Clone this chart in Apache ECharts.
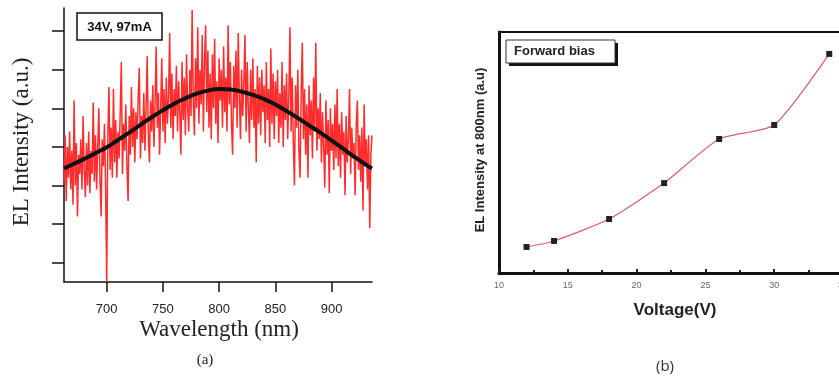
<!DOCTYPE html>
<html>
<head>
<meta charset="utf-8">
<script src="https://cdn.jsdelivr.net/npm/echarts@6/dist/echarts.min.js"></script>
<style>html,body{margin:0;padding:0;background:#fff;}#c{width:839px;height:376px;}</style>
</head>
<body>
<div id="c"></div>
<script>
// ---------- Panel (a): EL spectrum ----------
const spectrumStart = 662;   // nm, first sample
const spectrumStep = 1;      // nm between samples
const spectrumValues = [
  3.1, 4.3, 2.6, 4.0, 3.2, 4.4, 2.9, 3.9, 2.5, 5.2,
  3.0, 4.1, 2.2, 3.8, 3.3, 4.2, 2.9, 4.8, 3.4, 2.7,
  4.1, 3.0, 4.4, 2.8, 3.9, 3.3, 5.15, 3.1, 4.3, 2.9,
  4.0, 5.0, 3.2, 2.2, 4.2, 3.5, 4.6, 3.0, 0.5, 4.3,
  5.55, 3.4, 4.5, 3.2, 5.5, 3.6, 4.7, 3.2, 4.4, 3.7,
  4.9, 6.2, 3.3, 4.6, 3.9, 5.1, 3.5, 2.6, 4.8, 3.8,
  5.55, 4.0, 5.0, 3.6, 4.9, 4.2, 5.3, 6.05, 3.7, 4.8,
  4.1, 5.4, 3.9, 5.0, 6.35, 4.3, 3.6, 5.2, 4.4, 5.6,
  4.0, 5.1, 6.6, 4.5, 5.4, 3.8, 5.0, 6.3, 4.4, 5.5,
  4.1, 5.8, 4.6, 5.3, 6.95, 4.5, 5.9, 4.2, 5.5, 4.8,
  6.1, 4.4, 5.7, 4.9, 3.8, 6.2, 4.7, 5.8, 4.3, 6.4,
  5.0, 4.4, 6.0, 4.8, 7.55, 5.2, 4.3, 6.3, 5.0, 7.1,
  4.6, 6.0, 5.1, 6.9, 4.4, 6.2, 7.15, 4.9, 6.5, 4.5,
  5.9, 4.2, 6.4, 5.0, 6.8, 4.6, 5.7, 4.1, 6.3, 5.2,
  6.0, 4.5, 6.6, 4.9, 5.8, 4.4, 7.15, 5.1, 6.2, 4.6,
  3.8, 6.1, 5.0, 6.5, 4.5, 6.95, 5.3, 4.2, 6.0, 4.8,
  5.7, 6.9, 4.4, 6.2, 5.0, 4.1, 6.0, 4.7, 6.3, 4.5,
  5.5, 3.6, 6.1, 4.6, 5.8, 4.3, 6.0, 4.9, 5.6, 4.1,
  6.2, 4.7, 5.5, 4.0, 6.55, 4.6, 5.9, 4.2, 5.7, 4.8,
  6.0, 4.1, 5.4, 4.5, 6.2, 4.0, 5.6, 4.7, 5.9, 4.2,
  5.3, 7.1, 4.4, 5.8, 4.1, 3.0, 5.6, 4.5, 6.0, 3.9,
  3.2, 5.4, 6.7, 4.2, 5.5, 3.8, 5.1, 3.2, 5.6, 4.3,
  5.2, 3.7, 5.8, 4.4, 6.7, 3.9, 5.0, 4.2, 5.4, 3.6,
  4.9, 4.0, 2.95, 5.2, 3.8, 4.7, 2.8, 5.0, 3.9, 4.6,
  3.4, 5.1, 3.7, 5.5, 3.5, 4.6, 3.2, 4.9, 3.8, 4.4,
  2.75, 4.8, 3.6, 4.2, 5.5, 3.3, 4.5, 3.7, 4.1, 2.75,
  4.6, 5.2, 3.4, 4.3, 3.1, 4.5, 2.35, 5.1, 3.5, 4.2,
  2.9, 4.3, 1.9, 3.8, 4.3
];
const fitWavelengths = [662, 670, 680, 690, 700, 710, 720, 730, 740, 750, 760, 770, 780, 790, 800,
  810, 820, 830, 840, 850, 860, 870, 880, 890, 900, 910, 920, 930, 936];
const fitValues = [3.44, 3.55, 3.69, 3.84, 3.99, 4.18, 4.37, 4.57, 4.77, 4.95, 5.12, 5.26, 5.38, 5.46, 5.50,
  5.49, 5.43, 5.35, 5.24, 5.10, 4.93, 4.75, 4.56, 4.37, 4.17, 3.96, 3.75, 3.55, 3.44];
const wavelengthTicks = [700, 750, 800, 850, 900];
const intensityTicks = [1, 2, 3, 4, 5, 6, 7];

// ---------- Panel (b): intensity vs voltage ----------
const voltages = [12, 14, 18, 22, 26, 30, 34];
const intensity800 = [10.8, 13.3, 22.4, 37.3, 55.6, 61.4, 90.9];

const spectrumData = spectrumValues.map((v, i) => [spectrumStart + i * spectrumStep, v]);
const fitData = fitWavelengths.map((w, i) => [w, fitValues[i]]);
const voltData = voltages.map((v, i) => [v, intensity800[i]]);

const chart = echarts.init(document.getElementById('c'), null, {renderer: 'canvas'});
chart.setOption({
  animation: false,
  backgroundColor: '#ffffff',
  grid: [
    {left: 64, top: 8, width: 308, height: 274, containLabel: false, outerBoundsMode: 'none'},
    {left: 499, top: 32, width: 344, height: 241, containLabel: false, outerBoundsMode: 'none',
     show: true, borderColor: '#111', borderWidth: 2, backgroundColor: 'transparent'}
  ],
  xAxis: [
    {
      type: 'value', gridIndex: 0, min: 662, max: 936,
      splitLine: {show: false},
      axisLine: {lineStyle: {color: '#111', width: 1.5}},
      axisTick: {show: true, inside: false, length: 10, lineStyle: {color: '#111', width: 1.5}, customValues: wavelengthTicks},
      axisLabel: {customValues: wavelengthTicks, margin: 21, fontFamily: 'Arial, Liberation Sans, sans-serif', fontSize: 13, color: '#222'}
    },
    {
      type: 'value', gridIndex: 1, min: 10, max: 35, interval: 5,
      splitLine: {show: false},
      axisLine: {lineStyle: {color: '#111', width: 3}},
      axisTick: {show: true, inside: true, length: 4, lineStyle: {color: '#222', width: 2}},
      minorTick: {show: true, splitNumber: 2, length: 3, lineStyle: {color: '#222', width: 2}},
      axisLabel: {showMinLabel: true, showMaxLabel: true, margin: 8, fontFamily: 'Arial, Liberation Sans, sans-serif', fontSize: 9, color: '#666'}
    }
  ],
  yAxis: [
    {
      type: 'value', gridIndex: 0, min: 0.5, max: 7.6,
      splitLine: {show: false},
      axisLine: {show: true, lineStyle: {color: '#111', width: 1.5}},
      axisTick: {show: true, inside: false, length: 12, lineStyle: {color: '#111', width: 1.5}, customValues: intensityTicks},
      axisLabel: {show: false}
    },
    {
      type: 'value', gridIndex: 1, min: 0, max: 100,
      splitLine: {show: false},
      axisLine: {show: true, lineStyle: {color: '#111', width: 3}},
      axisTick: {show: false},
      axisLabel: {show: false}
    }
  ],
  series: [
    {
      type: 'line', xAxisIndex: 0, yAxisIndex: 0, data: spectrumData,
      showSymbol: false, symbol: 'none',
      lineStyle: {color: '#ff2d2d', width: 1.5}, z: 2
    },
    {
      type: 'line', xAxisIndex: 0, yAxisIndex: 0, data: fitData,
      smooth: true, showSymbol: false, symbol: 'none',
      lineStyle: {color: '#111', width: 4}, z: 3
    },
    {
      type: 'line', xAxisIndex: 1, yAxisIndex: 1, data: voltData,
      smooth: 0.2, symbol: 'rect', symbolSize: 6,
      itemStyle: {color: '#222'},
      lineStyle: {color: '#d45c78', width: 1.2}, z: 3
    }
  ],
  graphic: [
    // panel (a) annotations
    {type: 'rect', shape: {x: 77, y: 13, width: 85, height: 27}, style: {fill: '#fff', stroke: '#111', lineWidth: 1.5}, z: 10},
    {type: 'text', x: 119.5, y: 27, style: {text: '34V, 97mA', fontFamily: 'Arial, Liberation Sans, sans-serif', fontWeight: 'bold', fontSize: 13, fill: '#111', align: 'center', verticalAlign: 'middle'}, z: 11},
    {type: 'text', x: 219, y: 330, style: {text: 'Wavelength (nm)', fontFamily: 'Times New Roman, Liberation Serif, DejaVu Serif, serif', fontSize: 23, fill: '#222', align: 'center', verticalAlign: 'middle'}, z: 10},
    {type: 'text', x: 22, y: 142, rotation: Math.PI / 2, style: {text: 'EL Intensity (a.u.)', fontFamily: 'Times New Roman, Liberation Serif, DejaVu Serif, serif', fontSize: 23, fill: '#222', align: 'center', verticalAlign: 'middle'}, z: 10},
    {type: 'text', x: 205, y: 360, style: {text: '(a)', fontFamily: 'Times New Roman, Liberation Serif, serif', fontSize: 15, fill: '#222', align: 'center', verticalAlign: 'middle'}, z: 10},
    // panel (b) annotations
    {type: 'rect', shape: {x: 509, y: 43, width: 109, height: 23}, style: {fill: '#111'}, z: 9},
    {type: 'rect', shape: {x: 506, y: 40, width: 109, height: 23}, style: {fill: '#fff', stroke: '#333', lineWidth: 1}, z: 10},
    {type: 'text', x: 514, y: 51.5, style: {text: 'Forward bias', fontFamily: 'Arial, Liberation Sans, sans-serif', fontWeight: 'bold', fontSize: 13, fill: '#222', align: 'left', verticalAlign: 'middle'}, z: 11},
    {type: 'text', x: 480.5, y: 150, rotation: Math.PI / 2, style: {text: 'EL Intensity at 800nm (a.u)', fontFamily: 'Arial, Liberation Sans, sans-serif', fontWeight: 'bold', fontSize: 13, fill: '#222', align: 'center', verticalAlign: 'middle'}, z: 10},
    {type: 'text', x: 675, y: 310, style: {text: 'Voltage(V)', fontFamily: 'Arial, Liberation Sans, sans-serif', fontWeight: 'bold', fontSize: 17, fill: '#222', align: 'center', verticalAlign: 'middle'}, z: 10},
    {type: 'text', x: 665, y: 367, style: {text: '(b)', fontFamily: 'Open Sans, sans-serif', fontSize: 15, fill: '#333', align: 'center', verticalAlign: 'middle'}, z: 10}
  ]
});
</script>
</body>
</html>
